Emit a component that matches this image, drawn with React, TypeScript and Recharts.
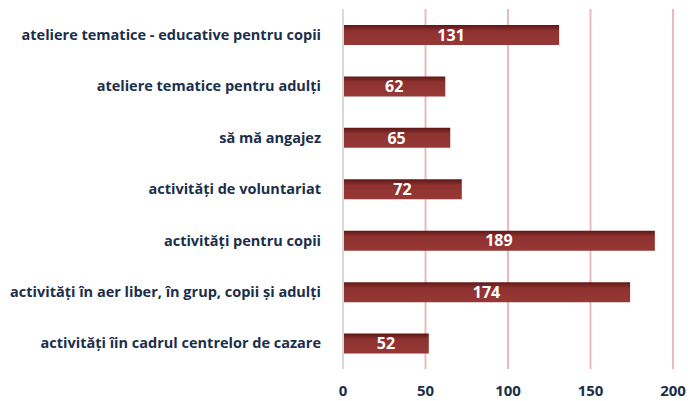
import type { ReactElement } from 'react'
import { Bar, BarChart, CartesianGrid, LabelList, XAxis, YAxis } from 'recharts'

const categories = [
	'ateliere tematice - educative pentru copii',
	'ateliere tematice pentru adulți',
	'să mă angajez',
	'activități de voluntariat',
	'activități pentru copii',
	'activități în aer liber, în grup, copii și adulți',
	'activități îin cadrul centrelor de cazare'
]

const values = [131, 62, 65, 72, 189, 174, 52]

const xTicks = [0, 50, 100, 150, 200]

const TEXT = '#1B2F4B'
const FONT = '"Open Sans", sans-serif'

const App = (): ReactElement => {
	const data = categories.map((name, i) => ({ name, value: values[i] }))

	return (
		<div style={{ fontFamily: FONT }}>
			<style>{'body{margin:0}'}</style>
			<BarChart
				width={697}
				height={401}
				data={data}
				layout='vertical'
				margin={{ top: 9, right: 24, bottom: 2, left: 0 }}
			>
				<defs>
					<linearGradient id='barFill' x1='0' y1='0' x2='0' y2='1'>
						<stop offset='0%' stopColor='#5E1716' />
						<stop offset='30%' stopColor='#8E3230' />
						<stop offset='100%' stopColor='#963836' />
					</linearGradient>
				</defs>
				<CartesianGrid horizontal={false} stroke='#EBB9BC' strokeWidth={2} />
				<XAxis
					type='number'
					domain={[0, 200]}
					ticks={xTicks}
					axisLine={false}
					tickLine={false}
					height={30}
					tick={{ fill: TEXT, fontSize: 15, fontWeight: 'bold', fontFamily: FONT }}
					tickMargin={10}
				/>
				<YAxis
					type='category'
					dataKey='name'
					width={343}
					axisLine={{ stroke: '#D9D9D9', strokeWidth: 2 }}
					tickLine={false}
					tickMargin={16}
					tick={{ fill: TEXT, fontSize: 14.5, fontWeight: 'bold', fontFamily: FONT }}
					interval={0}
				/>
				<Bar dataKey='value' barSize={20} fill='url(#barFill)' isAnimationActive={false}>
					<LabelList
						dataKey='value'
						position='center'
						fill='#FFFFFF'
						style={{ fontSize: 16, fontWeight: 'bold', fontFamily: FONT }}
					/>
				</Bar>
			</BarChart>
		</div>
	)
}

export default App
